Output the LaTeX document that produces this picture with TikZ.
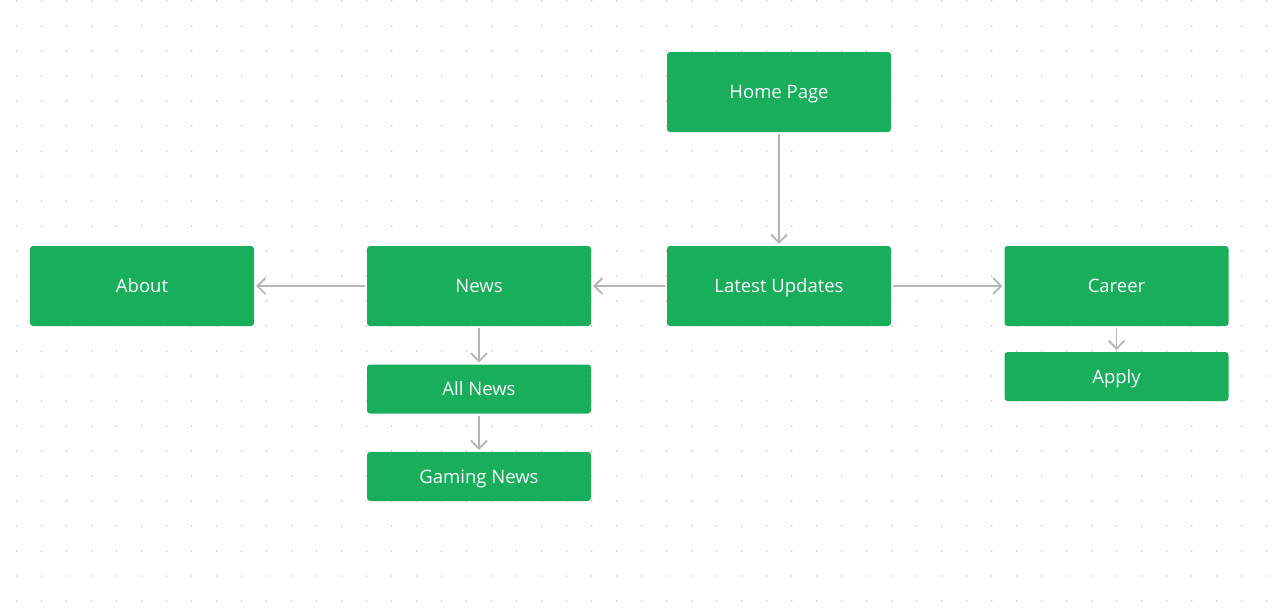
\documentclass[tikz,border=0pt]{standalone}
\usepackage{fontspec}
\setmainfont{Open Sans}
\usetikzlibrary{arrows.meta}
\definecolor{boxgreen}{HTML}{18AE5C}
\definecolor{linkgray}{HTML}{B5B5B5}
\definecolor{dotgray}{HTML}{D2D2D2}
\begin{document}
\begin{tikzpicture}[x=1pt,y=-1pt,
  pagebox/.style={fill=boxgreen,rounded corners=3pt,minimum width=224pt,
    text=white,font=\fontsize{18.5}{22}\selectfont,inner sep=0pt,
    text height=13.2pt,text depth=0pt},
  bigbox/.style={pagebox,minimum height=80pt},
  smallbox/.style={pagebox,minimum height=49pt},
  link/.style={draw=linkgray,line width=1.8pt,
    -{Straight Barb[length=8pt,width=16pt,line width=1.8pt]},
    shorten <=2pt,shorten >=2pt}]
\useasboundingbox (0,0) rectangle (1275,613);
\fill[white] (0,0) rectangle (1275,613);
% background dot grid
\foreach \i in {0,...,50}{
  \foreach \j in {0,...,24}{
    \fill[dotgray] (16.6+25*\i,1+25*\j) circle (0.9pt);
  }
}
% pages
\node[bigbox] (home) at (779,92) {Home Page};
\node[bigbox] (latest) at (779,286) {Latest Updates};
\node[bigbox] (news) at (479,286) {News};
\node[bigbox] (about) at (142,286) {About};
\node[bigbox] (career) at (1116.5,286) {Career};
\node[smallbox] (apply) at (1116.5,376.5) {Apply};
\node[smallbox] (allnews) at (479,389) {All News};
\node[smallbox] (gaming) at (479,476.5) {Gaming News};
% links
\draw[link] (home) -- (latest);
\draw[link] (latest) -- (news);
\draw[link] (news) -- (about);
\draw[link] (latest) -- (career);
\draw[link] (news) -- (allnews);
\draw[link] (allnews) -- (gaming);
\draw[link] (career) -- (apply);
\end{tikzpicture}
\end{document}
